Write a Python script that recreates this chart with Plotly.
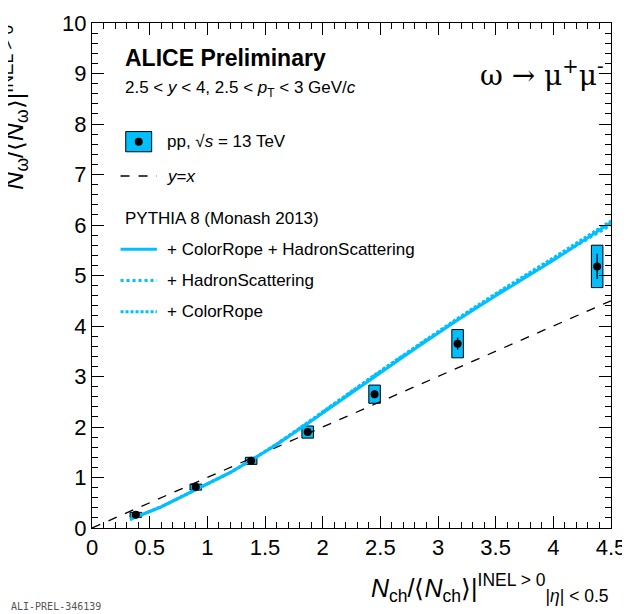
import plotly.graph_objects as go

# data
x_data = [0.38, 0.90, 1.38, 1.87, 2.45, 3.17, 4.38]
y_data = [0.26, 0.81, 1.33, 1.90, 2.65, 3.65, 5.18]
y_stat = [0.03, 0.04, 0.04, 0.06, 0.08, 0.12, 0.25]
y_sys = [0.05, 0.06, 0.07, 0.12, 0.18, 0.28, 0.42]
x_sys = [0.05, 0.05, 0.05, 0.05, 0.05, 0.05, 0.05]

x_py = [0.33, 0.6, 0.9, 1.2, 1.4, 1.6, 1.87, 2.2, 2.45, 2.8, 3.17, 3.5, 4.0, 4.5]
y_crhs = [0.17, 0.42, 0.76, 1.10, 1.37, 1.65, 2.07, 2.60, 3.00, 3.55, 4.12, 4.60, 5.30, 6.05]
y_hs = [0.17, 0.42, 0.76, 1.10, 1.37, 1.66, 2.08, 2.62, 3.02, 3.57, 4.13, 4.62, 5.32, 6.00]
y_cr = [0.17, 0.42, 0.76, 1.10, 1.37, 1.66, 2.09, 2.63, 3.03, 3.58, 4.15, 4.64, 5.35, 6.08]

cyan = "#00bfff"
font = "Liberation Sans, Arial"

fig = go.Figure()
fig.add_trace(go.Scatter(x=[0, 4.5], y=[0, 4.5], mode="lines",
                         line=dict(color="black", dash="dash", width=1.3)))
fig.add_trace(go.Scatter(x=x_py, y=y_hs, mode="lines", line=dict(color=cyan, width=3, dash="dot")))
fig.add_trace(go.Scatter(x=x_py, y=y_cr, mode="lines", line=dict(color=cyan, width=3, dash="3px,2px")))
fig.add_trace(go.Scatter(x=x_py, y=y_crhs, mode="lines", line=dict(color=cyan, width=3)))

shapes = []
for xv, yv, dx, dy in zip(x_data, y_data, x_sys, y_sys):
    shapes.append(dict(type="rect", xref="x", yref="y", x0=xv - dx, x1=xv + dx,
                       y0=yv - dy, y1=yv + dy, fillcolor=cyan,
                       line=dict(color="black", width=1), layer="below"))
fig.update_layout(shapes=shapes)

fig.add_trace(go.Scatter(x=x_data, y=y_data, mode="markers",
                         marker=dict(color="black", size=8),
                         error_y=dict(type="data", array=y_stat, color="black", width=0, thickness=1.3)))

# legend drawn by hand in paper coords
def leg_line(y, dash, width=3, color=cyan):
    fig.add_shape(type="line", xref="paper", yref="paper", x0=0.055, x1=0.125, y0=y, y1=y,
                  line=dict(color=color, width=width, dash=dash))

fig.add_shape(type="rect", xref="paper", yref="paper", x0=0.065, x1=0.115, y0=0.745, y1=0.785,
              fillcolor=cyan, line=dict(color="black", width=1), layer="below")
fig.add_trace(go.Scatter(x=[0.09], y=[0.765], xaxis="x2", yaxis="y2", mode="markers",
                         marker=dict(color="black", size=8)))
leg_line(0.697, "dash", 1.3, "black")
leg_line(0.552, "solid")
leg_line(0.49, "dot")
leg_line(0.428, "3px,2px")

ann = [
    (0.06, 0.93, "<b>ALICE Preliminary</b>", 23),
    (0.06, 0.87, "2.5 < <i>y</i> < 4, 2.5 < <i>p</i><sub>T</sub> < 3 GeV/<i>c</i>", 17),
    (0.14, 0.765, "pp, √<i>s</i> = 13 TeV", 17),
    (0.14, 0.697, "<i>y</i>=<i>x</i>", 17),
    (0.06, 0.612, "PYTHIA 8 (Monash 2013)", 17),
    (0.14, 0.552, "+ ColorRope + HadronScattering", 17),
    (0.14, 0.49, "+ HadronScattering", 17),
    (0.14, 0.428, "+ ColorRope", 17),
]
for x, y, t, s in ann:
    fig.add_annotation(x=x, y=y, xref="paper", yref="paper", text=t, showarrow=False,
                       xanchor="left", yanchor="middle", font=dict(size=s, color="black"))
fig.add_annotation(x=0.99, y=0.94, xref="paper", yref="paper", text="ω → μ<sup>+</sup>μ<sup>-</sup>",
                   showarrow=False, xanchor="right", font=dict(size=28, family="DejaVu Serif"))
fig.add_annotation(x=-0.15, y=1.0, xref="paper", yref="paper", textangle=-90,
                   text="<i>N</i><sub>ω</sub>/⟨<i>N</i><sub>ω</sub>⟩|<sup>INEL > 0</sup>",
                   showarrow=False, xanchor="center", yanchor="top", font=dict(size=25))
fig.add_annotation(x=1.0, y=-0.08, xref="paper", yref="paper",
                   text="<i>N</i><sub>ch</sub>/⟨<i>N</i><sub>ch</sub>⟩|<sup>INEL > 0</sup><sub>|<i>η</i>| < 0.5</sub>",
                   showarrow=False, xanchor="right", yanchor="top", font=dict(size=25))
fig.add_annotation(x=-0.16, y=-0.17, xref="paper", yref="paper", text="ALI-PREL-346139",
                   showarrow=False, xanchor="left", font=dict(size=10, color="#555", family="DejaVu Sans Mono"))

axis = dict(showgrid=False, zeroline=False, showline=True, linecolor="black", mirror="ticks",
            ticks="inside", ticklen=12, tickcolor="black", minor=dict(ticks="inside", ticklen=6, nticks=5),
            tickfont=dict(size=22, color="black"), automargin=False)
fig.update_layout(
    width=630, height=614, margin=dict(l=84, r=27, t=15, b=94),
    plot_bgcolor="white", paper_bgcolor="white", showlegend=False,
    font=dict(family=font, color="black"),
    xaxis=dict(axis, range=[0, 4.5], dtick=0.5),
    yaxis=dict(axis, range=[0, 10], dtick=1),
    xaxis2=dict(range=[0, 1], domain=[0, 1], overlaying="x", visible=False, anchor="y2"),
    yaxis2=dict(range=[0, 1], domain=[0, 1], overlaying="y", visible=False, anchor="x2"),
)
fig.write_html("out.html")
